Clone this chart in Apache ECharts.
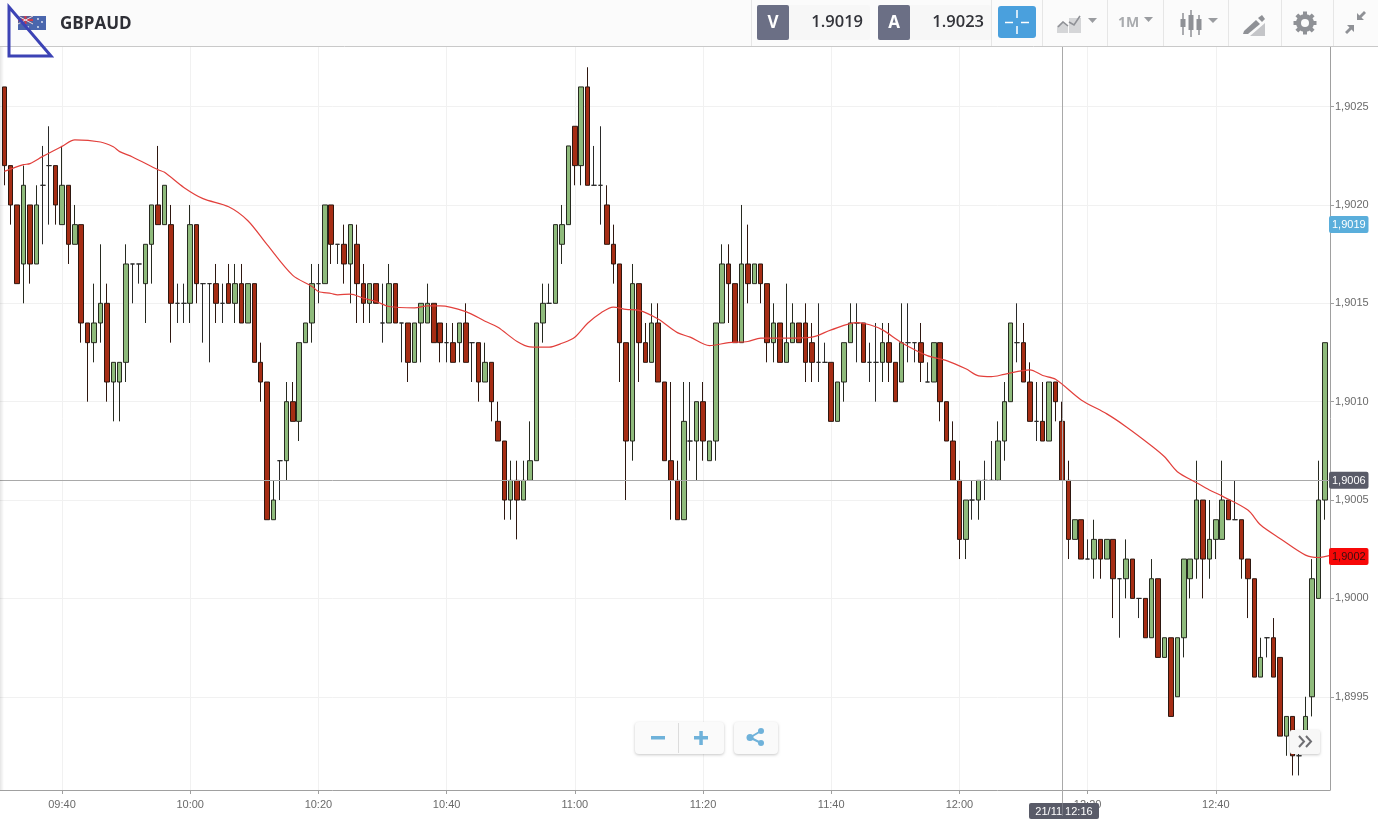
<!DOCTYPE html>
<html><head><meta charset="utf-8">
<style>html,body{margin:0;padding:0;background:#fff}#c{width:1378px;height:819px}</style>
<script src="https://cdn.jsdelivr.net/npm/echarts@6/dist/echarts.min.js"></script>
</head><body><div id="c"></div>
<script>
// Prices are stored in pips above 1.9000.
const pair = 'GBPAUD';
const bidLabel = 'V', askLabel = 'A';
const bidText = '1.9019', askText = '1.9023';
const frameText = '1M';
const crossTime = '21/11 12:16';
const crossPrice = 6, crossMinute = 736;
const bidPrice = 19, maTagPrice = 2.13;
const firstMinute = 571; // 09:31
const opens = [26,22,20,17,20,17,21,22,22,19, 21,18,19,14,13,14,15,11,11,12, 17,17,16,18,20,19,19,15,15,15, 19,16,16,16,15,16,15,16,14,16, 12,11,4,7,7,10,9,13,14,16, 16,20,18,18,17,18,16,15,16,14, 14,16,14,14,12,14,14,15,14,13, 13,13,14,13,13,11,12,9,8,5, 6,5,6,7,14,15,15,18,19,24, 22,26,21,21,20,18,17,13,8,16, 13,12,14,11,7,6,4,8,8,10, 7,8,14,17,16,13,17,16,17,16, 13,14,12,13,14,14,13,12,12,12, 9,11,13,14,14,12,12,12,13,12, 11,13,13,13,11,11,13,10,8,6, 3,5,5,6,6,6,8,10,13,13, 11,9,9,8,11,9,6,3,4,2, 2,3,2,3,1,1,2,0,0,-2, 1,-3,-2,-5,-2,1,2,5,2,3, 3,5,4,4,2,1,-4,-2,-2,-3, -7,-6,-8,-7,-5,0,5];
const closes = [22,20,16,21,17,20,21,22,20,21, 18,19,14,13,14,15,11,12,12,17, 17,17,18,20,19,21,15,15,15,19, 16,16,16,15,15,15,16,14,16,12, 11,4,5,7,10,9,13,14,16,16, 20,18,18,17,19,16,15,16,15,14, 16,14,14,12,14,15,15,13,13,13, 12,14,12,13,11,12,10,8,5,6, 5,6,7,14,15,15,19,19,23,22, 26,21,21,21,18,17,13,8,16,13, 12,14,11,7,6,4,9,8,10,8, 8,14,17,16,13,17,16,17,16,13, 14,12,13,14,13,12,12,12,12,9, 11,13,14,14,12,12,12,13,12,10, 13,13,13,12,11,13,10,8,6,3, 5,5,6,6,6,8,10,14,13,11, 9,9,8,11,10,6,3,4,2,2, 3,2,3,1,1,2,0,0,-2,1, -3,-2,-6,-2,2,2,5,2,3,4, 5,4,4,2,1,-4,-3,-2,-4,-7, -6,-8,-8,-6,1,5,13];
const lows = [21,19,16,15,16,17,18,19,19,19, 17,18,13,10,12,13,10,9,9,11, 15,16,14,16,19,19,13,14,14,14, 15,13,12,14,14,15,14,14,14,12, 10,4,4,5,6,9,8,13,13,15, 16,17,17,16,15,14,14,14,15,13, 14,14,12,11,12,12,14,13,12,12, 12,12,12,11,10,11,9,8,4,4, 3,5,6,7,13,15,15,17,19,21, 21,21,21,19,18,16,11,5,7,11, 12,12,11,7,4,4,4,7,6,7, 7,7,14,14,13,13,15,16,15,12, 12,12,12,13,13,11,11,11,12,9, 9,10,13,12,12,11,10,11,11,10, 11,12,12,11,11,11,9,8,6,2, 2,4,4,5,6,6,7,10,12,11, 9,8,8,8,9,6,2,3,2,2, 1,1,2,-1,-2,0,0,-1,-2,-2, -3,-3,-6,-5,-3,0,1,0,1,2, 3,4,4,1,-1,-4,-4,-3,-4,-7, -8,-9,-9,-7,-6,0,4];
const highs = [26,22,20,22,20,21,23,24,22,23, 21,20,19,14,16,18,16,12,12,18, 17,17,18,20,23,21,20,16,16,20, 19,16,16,17,16,17,17,17,16,16, 13,11,6,7,11,11,13,14,17,17, 20,20,18,19,19,19,17,16,16,16, 17,16,14,14,14,15,16,15,14,14, 14,14,15,13,13,13,12,10,8,7, 7,7,9,14,16,16,19,20,23,24, 26,27,23,24,21,19,17,13,17,16, 14,15,15,11,11,7,11,11,10,11, 8,14,18,18,16,20,19,17,17,16, 15,14,16,15,14,15,14,15,13,12, 11,13,15,15,14,13,14,14,14,12, 15,15,13,14,12,13,13,10,9,7, 5,6,6,7,8,9,11,14,15,14, 12,11,11,11,11,10,7,4,4,3, 4,3,3,3,1,3,2,0,0,2, 1,-2,-2,-2,2,2,7,5,5,4, 7,5,6,4,2,1,-2,-2,-1,-3, -6,-6,-7,-5,2,7,13];
const maIndex = [0,3,4,6,9,11,15,17,18,20,24,25,28,31,35,38,41,45,48,49,51,52,54,56,58,60,64,66,68,72,75,77,80,82,85,87,89,91,93,95,97,99,102,105,107,110,113,116,118,122,126,129,133,135,137,140,144,147,150,152,154,156,160,162,164,168,172,175,179,181,183,186,188,190,194,196,199,203,205,207];
const maValues = [21.71,22.05,22.10,22.47,22.98,23.31,23.20,22.96,22.71,22.44,21.79,21.66,20.89,20.32,19.91,19.20,17.98,16.42,15.86,15.60,15.50,15.43,15.47,15.26,15.09,14.84,14.77,14.87,14.87,14.58,14.09,13.78,13.06,12.79,12.77,12.97,13.28,13.99,14.50,14.81,14.69,14.64,14.20,13.51,13.28,12.85,13.00,13.06,13.23,13.23,13.28,13.65,14.02,13.91,13.65,13.00,12.34,12.09,11.67,11.31,11.27,11.39,11.62,11.33,11.14,10.09,9.38,8.73,7.75,7.20,6.44,5.88,5.51,5.20,4.49,3.73,3.05,2.20,2.08,2.20];
const priceTicks = [-5,0,5,10,15,20,25];
const timeTicks = [580,600,620,640,660,680,700,720,740,760];

const price = p => +(1.9 + p / 10000).toFixed(6);
const hhmm = m => String(Math.floor(m / 60)).padStart(2, '0') + ':' + String(Math.round(m % 60)).padStart(2, '0');
const comma = v => (+v).toFixed(4).replace('.', ',');

const candles = opens.map((o, i) => [firstMinute + i, price(o), price(closes[i]), price(lows[i]), price(highs[i])]);
const ma = maIndex.map((k, i) => [firstMinute + k, price(maValues[i])]);
const yTicks = priceTicks.map(price);

const UI = '"Open Sans","Noto Sans",sans-serif', AX = '"Liberation Sans",Arial,sans-serif';
const Z = 50, GR = '#8f9196';
const rect = (x, y, w, h, fill, extra) => Object.assign({ type: 'rect', z: Z, silent: true, shape: { x, y, width: w, height: h, r: (extra && extra.r) || 0 }, style: Object.assign({ fill }, (extra && extra.style) || {}) });
const line = (x1, y1, x2, y2, stroke, lw) => ({ type: 'line', z: Z, silent: true, shape: { x1, y1, x2, y2 }, style: { stroke, lineWidth: lw || 1, fill: null } });
const poly = (pts, fill, stroke, lw, closed) => ({ type: closed === false ? 'polyline' : 'polygon', z: Z, silent: true, shape: { points: pts }, style: { fill: fill || null, stroke: stroke || null, lineWidth: lw || 1 } });
const text = (x, y, t, size, color, weight, align, family) => ({ type: 'text', z: Z + 1, silent: true, x, y, style: { text: t, font: (weight || 400) + ' ' + size + 'px ' + (family || UI), fill: color, align: align || 'left', verticalAlign: 'middle' } });
const circle = (cx, cy, r, fill, stroke, lw) => ({ type: 'circle', z: Z, silent: true, shape: { cx, cy, r }, style: { fill: fill || null, stroke: stroke || null, lineWidth: lw || 1 } });
const shadow = { shadowBlur: 3, shadowOffsetY: 1, shadowColor: 'rgba(0,0,0,0.22)' };

const g = [];
// left edge fade
g.push({ type: 'rect', z: Z - 1, silent: true, shape: { x: 0, y: 47, width: 4, height: 743 }, style: { fill: { type: 'linear', x: 0, y: 0, x2: 1, y2: 0, colorStops: [{ offset: 0, color: 'rgba(0,0,0,0.10)' }, { offset: 1, color: 'rgba(0,0,0,0)' }] } } });
// header
g.push(rect(0, 0, 1378, 46, '#fbfbfb'));
g.push(line(0, 46.5, 1378, 46.5, '#c9c9c9'));
[751.5, 991.5, 1042.5, 1107.5, 1163.5, 1228.5, 1281.5, 1333.5].forEach(x => g.push(line(x, 0, x, 46, '#e6e6e6')));
// flag
g.push(rect(18, 16, 28, 14, '#4a66ad'));
g.push(rect(18, 16, 15, 8, '#5a5f96'));
g.push(line(18, 20, 33, 20, '#d23b4a', 2));
g.push(line(25.5, 16, 25.5, 24, '#d23b4a', 2));
g.push(line(18, 16, 33, 24, '#e8dfe6', 1));
g.push(line(33, 16, 18, 24, '#e8dfe6', 1));
[[38, 19], [42, 22], [38, 27], [28, 27]].forEach(p => g.push(circle(p[0], p[1], 0.9, '#e8eef8')));
g.push(text(60, 24, pair, 17, '#2e2f36', 700));
// blue triangle
g.push(poly([[9, 7], [51, 56], [9, 56]], null, '#3c43b5', 3));
// quotes
g.push(rect(757, 5, 113, 35, '#f7f7f7', { r: 2 }));
g.push(rect(757, 5, 32, 35, '#6b6f85', { r: 2 }));
g.push(text(773, 23, bidLabel, 17, '#fff', 700, 'center'));
g.push(text(863, 22.5, bidText, 16.5, '#33343a', 600, 'right'));
g.push(rect(878, 5, 113, 35, '#f7f7f7', { r: 2 }));
g.push(rect(878, 5, 32, 35, '#6b6f85', { r: 2 }));
g.push(text(894, 23, askLabel, 17, '#fff', 700, 'center'));
g.push(text(984, 22.5, askText, 16.5, '#33343a', 600, 'right'));
// crosshair button
g.push(rect(998, 6, 38, 32, '#4aa0dd', { r: 3 }));
g.push(line(1005, 22.5, 1013, 22.5, '#fff', 1.5), line(1021, 22.5, 1029, 22.5, '#fff', 1.5), line(1017, 10, 1017, 18, '#fff', 1.5), line(1017, 26, 1017, 34, '#fff', 1.5));
// chart style icon
g.push(poly([[1057, 33], [1057, 26], [1063, 21], [1068, 25], [1068, 33]], '#d5d6d8'));
g.push(rect(1069, 18, 12, 15, '#d5d6d8'));
g.push(poly([[1058, 27], [1063, 22], [1068, 26]], null, GR, 1.6, false));
g.push(poly([[1069, 22], [1074, 25], [1080, 16]], null, GR, 1.6, false));
g.push(poly([[1088, 18], [1097, 18], [1092.5, 23]], '#9a9ca0'));
// 1M
g.push(text(1118, 23, frameText, 14, '#a9abae', 700));
g.push(poly([[1144, 17], [1153, 17], [1148.5, 22]], '#9a9ca0'));
// candle icon
[[1183, 13, 35, 19, 27], [1191, 10, 37, 15, 30], [1199, 15, 35, 19, 30]].forEach(c => {
  g.push(line(c[0], c[1], c[0], c[2], GR, 1.5));
  g.push(rect(c[0] - 2.5, c[3], 5, c[4] - c[3], GR));
});
g.push(poly([[1208, 18], [1218, 18], [1213, 23]], '#9a9ca0'));
// drawing icon
g.push(poly([[1244, 31], [1256, 20], [1260, 24], [1248, 34], [1243, 34]], GR));
g.push(poly([[1258, 18], [1262, 15], [1265, 19], [1262, 22]], GR));
g.push(poly([[1250, 36], [1265, 23], [1265, 36]], '#c4c5c8'));
// gear
g.push(circle(1305, 23, 6.5, null, GR, 5));
[0, 45, 90, 135].forEach(a => {
  const r = a * Math.PI / 180, c = Math.cos(r), s = Math.sin(r);
  g.push(line(1305 - 11.5 * c, 23 - 11.5 * s, 1305 + 11.5 * c, 23 + 11.5 * s, GR, 4));
});
g.push(circle(1305, 23, 4, '#fbfbfb'));
// compress arrows
g.push(poly([[1357, 20], [1357, 13], [1359.5, 15.5], [1364, 11], [1366, 13], [1361.5, 17.5], [1364, 20]], GR));
g.push(poly([[1354, 25], [1354, 32], [1351.5, 29.5], [1347, 34], [1345, 32], [1349.5, 27.5], [1347, 25]], GR));
// price tags
const tag = (y, t, fill, color) => {
  g.push(rect(1329, y - 8.5, 39.5, 17, fill, { r: 2 }));
  g.push(text(1348.8, y + 0.5, t, 11, color, 400, 'center', AX));
};
const yOf = p => 303.3 + (15 - p) * 19.67;
tag(yOf(bidPrice), comma(price(bidPrice)), '#5aaedb', '#fff');
tag(yOf(crossPrice), comma(price(crossPrice)), '#595b68', '#fff');
tag(yOf(maTagPrice), comma(price(maTagPrice)), '#f70808', '#3a1010');
// time tag
g.push(line(1062.5, 790, 1062.5, 803, '#a9a9a9'));
g.push(rect(1029, 803, 70, 16, '#595b68', { r: 2 }));
g.push(line(1062.5, 803, 1062.5, 816, '#777883'));
g.push(text(1064, 811.5, crossTime, 11, '#fff', 400, 'center', AX));
// zoom / share buttons
g.push(rect(635, 722, 89, 32, '#fafafa', { r: 4, style: shadow }));
g.push(line(678.5, 723, 678.5, 753, '#dcdcdc'));
g.push(rect(651, 736, 14, 3.5, '#6fb2da'));
g.push(rect(694, 736, 14, 3.5, '#6fb2da'));
g.push(rect(699.3, 731, 3.5, 14, '#6fb2da'));
g.push(rect(734, 722, 44, 32, '#fafafa', { r: 4, style: shadow }));
g.push(line(750, 737.5, 761, 731, '#6fb2da', 2), line(750, 737.5, 761, 743, '#6fb2da', 2));
g.push(circle(750, 737.5, 3.5, '#6fb2da'), circle(761, 731, 3, '#6fb2da'), circle(761, 743, 3, '#6fb2da'));
// scroll button
g.push(rect(1290, 730, 30, 24, '#f7f7f7', { r: 2, style: shadow }));
g.push(poly([[1299, 736], [1304, 741.5], [1299, 747]], null, '#6e6e72', 2, false));
g.push(poly([[1306, 736], [1311, 741.5], [1306, 747]], null, '#6e6e72', 2, false));

const chart = echarts.init(document.getElementById('c'), null, { renderer: 'canvas' });
chart.setOption({
  animation: false,
  backgroundColor: '#fff',
  grid: { left: 0, right: 48, top: 47, bottom: 29 },
  xAxis: {
    type: 'value',
    min: 580 - 62 / 6.41,
    max: 580 + (1330 - 62) / 6.41,
    axisLine: { show: true, onZero: false, lineStyle: { color: '#a0a0a0', width: 1 } },
    axisTick: { show: true, length: 4, lineStyle: { color: '#a0a0a0' }, customValues: timeTicks },
    axisLabel: { customValues: timeTicks, formatter: v => hhmm(v), color: '#6a6a6a', fontSize: 11, fontFamily: AX, margin: 9 },
    splitLine: { show: true, lineStyle: { color: '#f1f1f1', width: 1 } }
  },
  yAxis: {
    type: 'value',
    position: 'right',
    scale: true,
    min: price(-9.74),
    max: price(28.03),
    axisLine: { show: true, lineStyle: { color: '#a0a0a0', width: 1 } },
    axisTick: { show: true, length: 4, lineStyle: { color: '#a0a0a0' }, customValues: yTicks },
    axisLabel: { customValues: yTicks, formatter: comma, color: '#6a6a6a', fontSize: 11, fontFamily: AX, margin: 5, padding: [2, 0, 0, 0] },
    splitLine: { show: true, lineStyle: { color: '#f1f1f1', width: 1 } }
  },
  series: [
    {
      type: 'candlestick',
      barWidth: 5,
      encode: { x: 0, y: [1, 2, 3, 4] },
      data: candles,
      itemStyle: { color: '#8fbb7c', color0: '#a62d14', borderColor: '#262a20', borderColor0: '#2e1710', borderColorDoji: '#2a2a2a', borderWidth: 1 }
    },
    {
      type: 'line',
      data: ma,
      smooth: 0.3,
      showSymbol: false,
      z: 5,
      lineStyle: { color: '#e2403c', width: 1.2 },
      markLine: {
        silent: true, symbol: 'none', animation: false, precision: 6, label: { show: false },
        lineStyle: { color: '#a9a9a9', type: 'solid', width: 1 },
        data: [{ yAxis: price(crossPrice) }, { xAxis: crossMinute }]
      }
    }
  ],
  graphic: { elements: g }
});
</script></body></html>
